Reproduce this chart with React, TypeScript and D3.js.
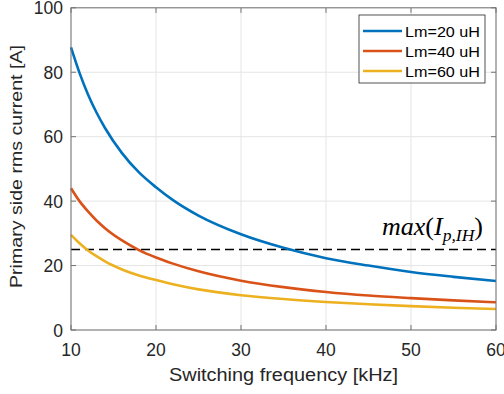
import React from 'react'
import * as d3 from 'd3'

// switching frequency [kHz]
const freqs = [10, 11, 12, 13, 14, 16, 18, 20, 22, 25, 30, 35, 40, 45, 50, 55, 60]
// primary side rms current [A]
const lm20 = [87.7, 79.8, 73.1, 67.5, 62.7, 54.9, 48.9, 44.3, 40.3, 35.5, 29.7, 25.5, 22.3, 20.0, 18.0, 16.5, 15.2]
const lm40 = [44.0, 40.0, 36.8, 34.0, 31.6, 27.8, 24.8, 22.5, 20.6, 18.2, 15.3, 13.3, 11.8, 10.7, 9.9, 9.2, 8.6]
const lm60 = [29.5, 26.9, 24.7, 22.9, 21.3, 18.8, 16.9, 15.5, 14.2, 12.6, 10.8, 9.6, 8.7, 8.0, 7.4, 6.9, 6.5]
const seriesNames = ['Lm=20 uH', 'Lm=40 uH', 'Lm=60 uH']
const limitValue = 25
const xTicks = [10, 20, 30, 40, 50, 60]
const yTicks = [0, 20, 40, 60, 80, 100]

const colors = ['#0072BD', '#D95319', '#EDB120']
const font = 'Liberation Sans, Arial, sans-serif'

export default function App() {
  const width = 504
  const height = 394
  const m = { left: 71, right: 8, top: 7.8, bottom: 64 }
  const x = d3.scaleLinear().domain([10, 60]).range([m.left, width - m.right])
  const y = d3.scaleLinear().domain([0, 100]).range([height - m.bottom, m.top])
  const [x0, x1] = x.range()
  const [y0, y1] = y.range()

  const line = d3.line<number>()
    .x((d, i) => x(freqs[i]))
    .y(d => y(d))
    .curve(d3.curveMonotoneX)

  const series = [lm20, lm40, lm60]
  const axisColor = '#737373'
  const textColor = '#262626'

  return (
    <svg width={width} height={height} style={{ position: 'absolute', left: 0, top: 0, background: '#fff' }}>
      {/* grid */}
      {xTicks.map(t => (
        <line key={'gx' + t} x1={x(t)} x2={x(t)} y1={y0} y2={y1} stroke="#e5e5e5" strokeWidth={1} />
      ))}
      {yTicks.map(t => (
        <line key={'gy' + t} x1={x0} x2={x1} y1={y(t)} y2={y(t)} stroke="#e5e5e5" strokeWidth={1} />
      ))}

      {/* limit line */}
      <line x1={x0} x2={x1} y1={y(limitValue)} y2={y(limitValue)}
        stroke="#000" strokeWidth={1.5} strokeDasharray="9,5" />

      {/* curves */}
      {series.map((s, i) => (
        <path key={'s' + i} d={line(s) || ''} fill="none" stroke={colors[i]} strokeWidth={2.6} />
      ))}

      {/* box & ticks */}
      <rect x={x0} y={y1} width={x1 - x0} height={y0 - y1} fill="none" stroke={axisColor} strokeWidth={1} />
      {xTicks.map(t => (
        <g key={'tx' + t}>
          <line x1={x(t)} x2={x(t)} y1={y0} y2={y0 - 5} stroke={axisColor} />
          <line x1={x(t)} x2={x(t)} y1={y1} y2={y1 + 5} stroke={axisColor} />
          <text x={x(t)} y={y0 + 26} textAnchor="middle" fontFamily={font} fontSize={17.5} fill={textColor}>{t}</text>
        </g>
      ))}
      {yTicks.map(t => (
        <g key={'ty' + t}>
          <line x1={x0} x2={x0 + 5} y1={y(t)} y2={y(t)} stroke={axisColor} />
          <line x1={x1} x2={x1 - 5} y1={y(t)} y2={y(t)} stroke={axisColor} />
          <text x={x0 - 8} y={y(t) + 6.5} textAnchor="end" fontFamily={font} fontSize={17.5} fill={textColor}>{t}</text>
        </g>
      ))}

      {/* axis titles */}
      <text x={(x0 + x1) / 2} y={y0 + 50.5} textAnchor="middle" fontFamily={font} fontSize={17.5}
        textLength={229} lengthAdjust="spacingAndGlyphs" fill={textColor}>
        Switching frequency [kHz]
      </text>
      <text transform={`translate(21.7,166.5) rotate(-90)`} textAnchor="middle" fontFamily={font} fontSize={16.5}
        textLength={243} lengthAdjust="spacingAndGlyphs" fill={textColor}>
        Primary side rms current [A]
      </text>

      {/* annotation */}
      <text x={382} y={y(limitValue) - 14.4} fontFamily="Liberation Serif, Times New Roman, serif" fontSize={24.5}
        textLength={101} lengthAdjust="spacingAndGlyphs" fill="#000">
        <tspan fontStyle="italic">max</tspan>
        <tspan>(</tspan>
        <tspan fontStyle="italic">I</tspan>
        <tspan fontStyle="italic" fontSize={16.5} dy={6}>p,IH</tspan>
        <tspan dy={-6}>)</tspan>
      </text>

      {/* legend */}
      <g>
        <rect x={359} y={15} width={126} height={68} fill="#fff" stroke={textColor} strokeWidth={0.8} />
        {seriesNames.map((n, i) => (
          <g key={'lg' + i}>
            <line x1={363} x2={402} y1={31 + i * 20} y2={31 + i * 20} stroke={colors[i]} strokeWidth={2.6} />
            <text x={405} y={31 + i * 20 + 5.5} fontFamily={font} fontSize={15.5}
              textLength={75} lengthAdjust="spacingAndGlyphs" fill="#000">{n}</text>
          </g>
        ))}
      </g>
    </svg>
  )
}
